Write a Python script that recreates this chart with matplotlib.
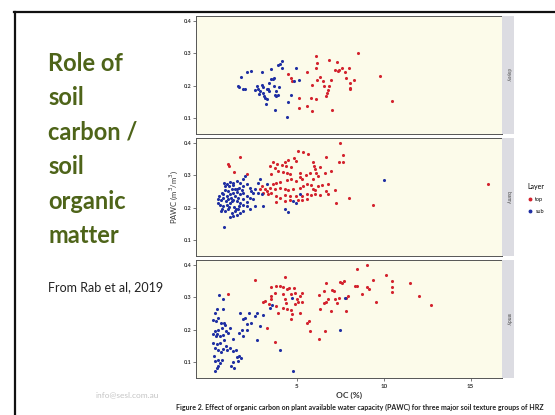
import matplotlib
matplotlib.use("Agg")
import matplotlib.pyplot as plt
from matplotlib.lines import Line2D

plt.rcParams['font.family'] = ['Lato', 'DejaVu Sans']

# texture groups (facets) and OC (%) / PAWC (m3/m3) per layer
groups = ["clayey", "loamy", "sandy"]

clay_top_oc = [8.51, 6.13, 6.86, 7.32, 6.17, 6.13, 7.57, 8.01, 7.22, 7.38, 7.43, 7.76, 5.59, 4.50,
               6.32, 7.85, 6.17, 6.48, 6.99, 8.28, 8.05, 5.90, 6.55, 6.86, 8.08, 8.05, 6.80, 6.74,
               6.70, 5.11, 5.84, 6.13, 5.56, 5.11, 5.88, 7.01, 9.77, 10.48, 4.64, 4.75]
clay_top_pawc = [0.300, 0.291, 0.278, 0.273, 0.269, 0.253, 0.255, 0.255, 0.248, 0.245, 0.248, 0.243,
                 0.242, 0.237, 0.227, 0.222, 0.217, 0.214, 0.216, 0.217, 0.208, 0.203, 0.200, 0.198,
                 0.193, 0.190, 0.186, 0.177, 0.167, 0.160, 0.161, 0.159, 0.138, 0.129, 0.121, 0.124,
                 0.229, 0.152, 0.224, 0.214]
clay_sub_oc = [1.76, 1.61, 1.69, 1.88, 2.01, 2.16, 2.36, 2.97, 2.68, 2.78, 2.87, 2.97, 3.03, 3.07,
               3.12, 3.16, 3.26, 3.35, 3.39, 3.49, 3.54, 3.60, 3.68, 3.68, 3.74, 3.79, 3.83, 3.89,
               3.98, 4.06, 4.12, 3.93, 4.12, 3.22, 3.77, 4.41, 4.50, 4.69, 4.94, 4.85, 5.11, 3.26,
               3.41, 2.84, 2.59]
clay_sub_pawc = [0.226, 0.200, 0.195, 0.190, 0.188, 0.243, 0.245, 0.242, 0.200, 0.188, 0.183, 0.203,
                 0.195, 0.177, 0.169, 0.162, 0.157, 0.190, 0.208, 0.221, 0.250, 0.219, 0.223, 0.198,
                 0.172, 0.169, 0.183, 0.172, 0.196, 0.265, 0.276, 0.263, 0.255, 0.143, 0.124, 0.103,
                 0.150, 0.170, 0.255, 0.214, 0.216, 0.188, 0.183, 0.174, 0.185]

loam_top_oc = [7.47, 5.08, 5.33, 5.65, 7.66, 6.70, 4.85, 4.98, 4.50, 4.31, 3.64, 3.87, 4.12, 4.37,
               4.69, 5.94, 5.98, 7.43, 1.72, 1.05, 1.11, 1.38, 2.11, 3.45, 3.74, 3.93, 4.21, 4.41,
               3.54, 4.60, 5.17, 5.52, 5.75, 6.13, 6.61, 6.99, 5.17, 5.27, 4.98, 4.69, 4.41, 4.02,
               3.83, 3.64, 3.45, 3.74, 4.02, 4.31, 4.50, 4.79, 5.17, 5.36, 5.56, 5.84, 5.94, 6.03,
               6.23, 6.42, 6.67, 7.18, 6.80, 6.32, 6.03, 5.84, 5.56, 5.27, 4.98, 4.60, 4.31, 4.02,
               3.83, 3.54, 3.35, 3.26, 3.16, 2.97, 2.87, 3.07, 3.83, 4.31, 4.60, 5.08, 5.27, 5.56,
               7.28, 8.01, 9.39, 16.00, 5.94, 6.23, 6.03, 6.32, 6.80, 7.66]
loam_top_pawc = [0.399, 0.376, 0.373, 0.366, 0.362, 0.357, 0.352, 0.345, 0.348, 0.340, 0.340, 0.334,
                 0.331, 0.327, 0.324, 0.340, 0.327, 0.340, 0.357, 0.334, 0.327, 0.310, 0.303, 0.327,
                 0.321, 0.314, 0.310, 0.308, 0.303, 0.303, 0.308, 0.300, 0.306, 0.308, 0.308, 0.314,
                 0.293, 0.288, 0.282, 0.288, 0.285, 0.279, 0.277, 0.272, 0.261, 0.258, 0.261, 0.256,
                 0.254, 0.256, 0.261, 0.267, 0.272, 0.269, 0.258, 0.253, 0.265, 0.269, 0.251, 0.254,
                 0.241, 0.238, 0.241, 0.238, 0.241, 0.235, 0.235, 0.235, 0.238, 0.230, 0.235, 0.246,
                 0.241, 0.251, 0.258, 0.267, 0.256, 0.246, 0.217, 0.220, 0.223, 0.223, 0.223, 0.225,
                 0.213, 0.228, 0.209, 0.272, 0.288, 0.298, 0.319, 0.324, 0.272, 0.342]
loam_sub_oc = [0.80, 0.96, 1.15, 1.34, 1.53, 1.72, 1.92, 2.11, 2.01, 1.88, 1.69, 1.44, 1.25, 1.05,
               0.86, 0.67, 0.54, 0.48, 0.61, 0.77, 0.96, 1.15, 1.34, 1.53, 1.72, 1.92, 2.11, 2.30,
               2.49, 2.39, 2.59, 2.78, 2.97, 3.07, 2.59, 2.30, 2.11, 1.92, 1.72, 1.53, 1.34, 1.15,
               0.96, 0.77, 0.67, 0.86, 1.05, 1.25, 1.44, 1.63, 1.34, 1.15, 1.53, 1.72, 1.92, 0.80,
               4.31, 4.50, 5.17, 4.98, 4.79, 1.25, 1.44, 1.05, 0.57, 0.48, 2.78, 2.87, 3.26, 10.02,
               0.86, 1.11, 1.30, 1.57, 1.82, 0.77, 1.19, 1.63, 1.88, 0.92, 1.38, 1.69, 1.11, 1.49,
               0.61, 2.11, 2.49, 2.30]
loam_sub_pawc = [0.277, 0.272, 0.279, 0.275, 0.282, 0.277, 0.288, 0.272, 0.298, 0.267, 0.261, 0.258,
                 0.256, 0.251, 0.254, 0.246, 0.235, 0.227, 0.223, 0.230, 0.235, 0.241, 0.246, 0.248,
                 0.241, 0.246, 0.235, 0.230, 0.225, 0.251, 0.258, 0.246, 0.241, 0.204, 0.204, 0.194,
                 0.204, 0.209, 0.215, 0.220, 0.223, 0.215, 0.209, 0.204, 0.196, 0.189, 0.194, 0.183,
                 0.189, 0.194, 0.173, 0.171, 0.178, 0.183, 0.189, 0.140, 0.194, 0.185, 0.241, 0.215,
                 0.220, 0.220, 0.235, 0.225, 0.209, 0.215, 0.277, 0.288, 0.272, 0.284, 0.267, 0.265,
                 0.269, 0.256, 0.254, 0.241, 0.230, 0.230, 0.225, 0.220, 0.202, 0.204, 0.202, 0.196,
                 0.189, 0.217, 0.246, 0.261]

sand_top_oc = [9.04, 8.47, 4.33, 10.11, 10.48, 9.39, 11.53, 6.70, 7.47, 7.72, 7.62, 8.33, 8.47, 9.06,
               9.14, 7.05, 7.15, 3.83, 4.02, 4.21, 3.49, 4.46, 4.56, 4.85, 4.89, 4.69, 5.31, 5.17,
               5.02, 5.08, 5.27, 4.89, 4.21, 3.74, 3.54, 3.51, 3.07, 3.16, 3.39, 3.83, 3.93, 4.31,
               4.37, 4.44, 4.64, 4.21, 4.69, 4.75, 5.21, 5.59, 5.71, 5.75, 6.26, 6.61, 6.26, 6.55,
               6.70, 6.80, 6.95, 7.22, 7.32, 7.43, 7.85, 7.95, 7.80, 6.32, 8.72, 9.54, 10.46, 10.48,
               12.01, 12.74, 3.31, 3.74, 2.61, 1.02, 6.57]
sand_top_pawc = [0.400, 0.387, 0.361, 0.369, 0.350, 0.353, 0.343, 0.345, 0.347, 0.350, 0.343, 0.335,
                 0.335, 0.330, 0.324, 0.322, 0.319, 0.335, 0.335, 0.333, 0.330, 0.324, 0.327, 0.327,
                 0.314, 0.311, 0.314, 0.304, 0.295, 0.285, 0.285, 0.280, 0.309, 0.314, 0.304, 0.295,
                 0.285, 0.288, 0.278, 0.273, 0.252, 0.295, 0.283, 0.262, 0.260, 0.267, 0.231, 0.247,
                 0.252, 0.221, 0.226, 0.195, 0.171, 0.195, 0.306, 0.283, 0.285, 0.293, 0.257, 0.295,
                 0.283, 0.299, 0.299, 0.304, 0.257, 0.262, 0.309, 0.285, 0.330, 0.316, 0.304, 0.276,
                 0.205, 0.161, 0.352, 0.310, 0.319]
sand_sub_oc = [0.54, 0.73, 0.38, 0.29, 0.19, 0.34, 0.48, 0.61, 0.80, 0.86, 0.67, 0.48, 0.29, 0.15,
               0.42, 0.57, 0.77, 0.92, 1.05, 1.15, 0.19, 0.38, 0.29, 0.48, 0.61, 0.77, 0.92, 0.96,
               1.15, 1.30, 1.34, 1.49, 1.57, 1.69, 1.76, 1.63, 1.34, 1.19, 1.38, 0.29, 0.48, 0.57,
               0.67, 0.38, 0.29, 0.48, 1.72, 1.88, 2.01, 2.11, 2.26, 2.34, 2.59, 2.72, 2.87, 2.68,
               1.88, 1.82, 1.69, 2.11, 3.03, 3.45, 3.58, 4.02, 4.79, 7.47, 7.76, 4.75, 0.34, 0.73,
               0.57, 0.80, 0.23]
sand_sub_pawc = [0.306, 0.293, 0.264, 0.252, 0.229, 0.226, 0.236, 0.221, 0.219, 0.213, 0.205, 0.200,
                 0.195, 0.185, 0.185, 0.180, 0.182, 0.195, 0.190, 0.205, 0.159, 0.154, 0.143, 0.138,
                 0.130, 0.140, 0.148, 0.138, 0.143, 0.171, 0.133, 0.138, 0.115, 0.119, 0.112, 0.102,
                 0.099, 0.088, 0.081, 0.102, 0.107, 0.097, 0.107, 0.081, 0.071, 0.088, 0.252, 0.233,
                 0.236, 0.216, 0.250, 0.221, 0.242, 0.250, 0.211, 0.169, 0.180, 0.200, 0.190, 0.200,
                 0.244, 0.267, 0.275, 0.138, 0.073, 0.200, 0.299, 0.299, 0.180, 0.262, 0.159, 0.169,
                 0.119]

top_oc = [clay_top_oc, loam_top_oc, sand_top_oc]
top_pawc = [clay_top_pawc, loam_top_pawc, sand_top_pawc]
sub_oc = [clay_sub_oc, loam_sub_oc, sand_sub_oc]
sub_pawc = [clay_sub_pawc, loam_sub_pawc, sand_sub_pawc]

yticks = [0.1, 0.2, 0.3, 0.4]
xticks = [5, 10, 15]

red = '#d3232e'
blue = '#1f2fa3'
olive = '#4e6419'

W, H = 555, 415
fig = plt.figure(figsize=(W / 100, H / 100), dpi=100)
fig.patch.set_facecolor('white')

# slide frame
fig.add_artist(Line2D([14 / W, 1], [1 - 12.5 / H] * 2, color='#111111', lw=1.6))
fig.add_artist(Line2D([15 / W] * 2, [0, 1 - 12.5 / H], color='#111111', lw=1.6))

# slide title
fig.text(48 / W, 1 - 52 / H, "Role of\nsoil\ncarbon /\nsoil\norganic\nmatter",
         fontsize=17, fontweight='bold', color=olive, va='top', ha='left', linespacing=1.6)
fig.text(48 / W, 1 - 287 / H, "From Rab et al, 2019", fontsize=9,
         color='#222222', va='center', ha='left')
fig.text(96 / W, 1 - 395 / H, "info@sesl.com.au", fontsize=6, color='#c4c4c4',
         va='center', ha='left')

# facet panels
left, width = 196 / W, 306 / W
tops = [16, 138, 260]
ph = 118
for i, g in enumerate(groups):
    ax = fig.add_axes([left, 1 - (tops[i] + ph) / H, width, ph / H])
    ax.set_facecolor('#fcfbea')
    ax.scatter(top_oc[i], top_pawc[i], s=5, color=red, linewidths=0, zorder=3)
    ax.scatter(sub_oc[i], sub_pawc[i], s=5, color=blue, linewidths=0, zorder=3)
    ax.set_xlim(-0.8, 16.8)
    ax.set_ylim(0.05, 0.415)
    ax.set_yticks(yticks)
    ax.set_yticklabels([f"{t:.1f}" for t in yticks], fontsize=4, fontweight='bold',
                       color='#333333')
    ax.tick_params(axis='y', length=2, width=0.5, pad=1, color='#444444')
    if i == 2:
        ax.set_xticks(xticks)
        ax.set_xticklabels([str(t) for t in xticks], fontsize=4.5, fontweight='bold',
                           color='#333333')
        ax.tick_params(axis='x', length=2, width=0.5, pad=2, color='#444444')
        ax.set_xlabel("OC (%)", fontsize=6, fontweight='bold', color='#333333', labelpad=2)
    else:
        ax.set_xticks([])
    if i == 1:
        ax.set_ylabel("PAWC (m$^3$/m$^3$)", fontsize=5.5, color='#333333', labelpad=3)
    for sp in ax.spines.values():
        sp.set_color('#555555')
        sp.set_linewidth(0.7)

    # facet strip
    sax = fig.add_axes([502 / W, 1 - (tops[i] + ph) / H, 12 / W, ph / H])
    sax.set_facecolor('#dcdce2')
    sax.set_xticks([])
    sax.set_yticks([])
    for sp in sax.spines.values():
        sp.set_visible(False)
    sax.text(0.5, 0.5, g, rotation=270, fontsize=3.5, color='#444444',
             ha='center', va='center', transform=sax.transAxes)

# layer legend
handles = [Line2D([], [], marker='o', ls='', color=red, markersize=1.8),
           Line2D([], [], marker='o', ls='', color=blue, markersize=1.8)]
fig.legend(handles, ['top', 'sub'], title='Layer', loc='upper left',
           bbox_to_anchor=(522 / W, 1 - 178 / H), frameon=False, fontsize=4,
           title_fontsize=5, handletextpad=0.3, labelspacing=1.3, handlelength=1.2)

fig.text(176 / W, 1 - 407 / H,
         "Figure 2. Effect of organic carbon on plant available water capacity (PAWC) "
         "for three major soil texture groups of HRZ",
         fontsize=5.0, fontweight='bold', color='#222222', va='center', ha='left')

fig.savefig("out.png", dpi=100)
